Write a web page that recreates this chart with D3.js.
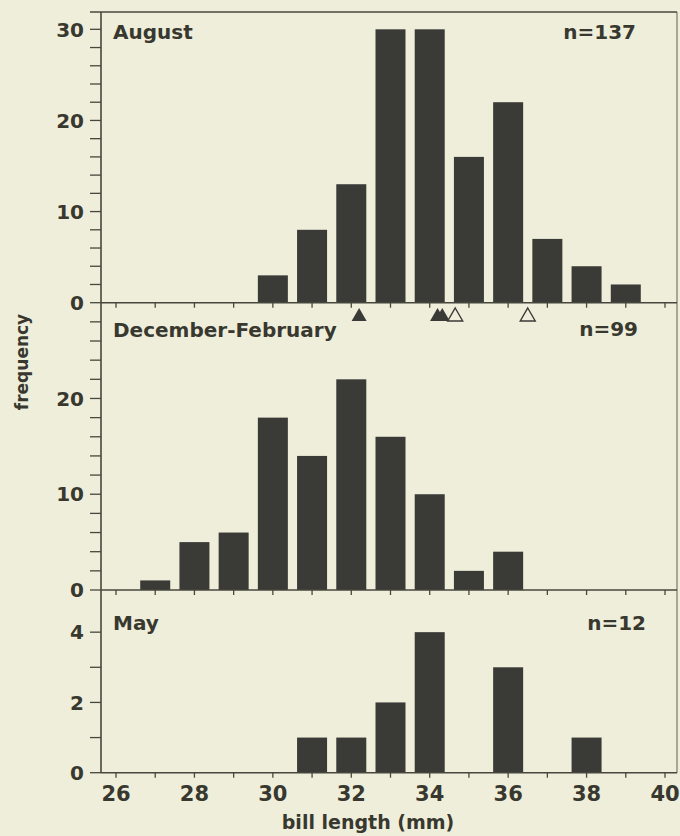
<!DOCTYPE html>
<html>
<head>
<meta charset="utf-8">
<script src="https://cdn.jsdelivr.net/npm/d3@7/dist/d3.min.js"></script>
<style>
  html, body { margin: 0; padding: 0; background: #eeeedb; }
  svg { display: block; }
  text { font-family: "DejaVu Sans", sans-serif; font-weight: bold; fill: #38382f; }
</style>
</head>
<body>
<svg id="chart" width="680" height="836"></svg>
<script>
// Bill length classes (mm) and counts per season
const augLengths = [30, 31, 32, 33, 34, 35, 36, 37, 38, 39];
const augCounts  = [3, 8, 13, 30, 30, 16, 22, 7, 4, 2];

const winLengths = [27, 28, 29, 30, 31, 32, 33, 34, 35, 36];
const winCounts  = [1, 5, 6, 18, 14, 22, 16, 10, 2, 4];

const mayLengths = [31, 32, 33, 34, 36, 38];
const mayCounts  = [1, 1, 2, 4, 3, 1];

const panelTitles = ["August", "December-February", "May"];
const panelN      = ["n=137", "n=99", "n=12"];

// Mean bill lengths marked under the August panel
const meanFilled = [32.2, 34.2, 34.32];
const meanOpen   = [34.65, 36.5];

const xTickValues = [26, 27, 28, 29, 30, 31, 32, 33, 34, 35, 36, 37, 38, 39, 40];
const xTickLabels = [26, 28, 30, 32, 34, 36, 38, 40];

const axisInk = "#47473e";
const barFill = "#3a3a37";
const paper = "#eeeedb";

const svg = d3.select("#chart");
const axisX = 101, rightX = 677, frameTop = 12;

const x = d3.scaleLinear().domain([26, 40]).range([116, 665]);
const barW = 30;

const panels = [
  { lengths: augLengths, counts: augCounts, y: d3.scaleLinear().domain([0, 31.9]).range([302.7, frameTop]),
    minor: d3.range(0, 31, 2), major: [0, 10, 20, 30], titleY: 39, nX: 636, nY: 39 },
  { lengths: winLengths, counts: winCounts, y: d3.scaleLinear().domain([0, 30]).range([590, 302.7]),
    minor: d3.range(0, 29, 2), major: [0, 10, 20], titleY: 337, nX: 638, nY: 336 },
  { lengths: mayLengths, counts: mayCounts, y: d3.scaleLinear().domain([0, 5.2]).range([772.7, 590]),
    minor: [0, 1, 2, 3, 4], major: [0, 2, 4], titleY: 630, nX: 646, nY: 630 }
];

// Outer frame: top and right edges
svg.append("line").attr("x1", 90).attr("x2", rightX).attr("y1", frameTop).attr("y2", frameTop)
  .attr("stroke", axisInk).attr("stroke-width", 1.5);
svg.append("line").attr("x1", rightX).attr("x2", rightX).attr("y1", frameTop).attr("y2", 773)
  .attr("stroke", axisInk).attr("stroke-width", 1.2).attr("opacity", 0.7);

panels.forEach((p, i) => {
  const g = svg.append("g");
  const y0 = p.y(0);

  // bars
  g.selectAll("rect").data(p.lengths.map((L, k) => ({ L, c: p.counts[k] })))
    .enter().append("rect")
    .attr("x", d => x(d.L) - barW / 2)
    .attr("width", barW)
    .attr("y", d => p.y(d.c))
    .attr("height", d => y0 - p.y(d.c))
    .attr("fill", barFill);

  // baseline with downward ticks
  g.append("line").attr("x1", axisX).attr("x2", rightX).attr("y1", y0).attr("y2", y0)
    .attr("stroke", axisInk).attr("stroke-width", 1.6);
  g.selectAll(".xt").data(xTickValues).enter().append("line")
    .attr("x1", d => x(d)).attr("x2", d => x(d))
    .attr("y1", y0).attr("y2", y0 + 5)
    .attr("stroke", axisInk).attr("stroke-width", 1.3);

  // left-axis ticks
  g.selectAll(".yt").data(p.minor).enter().append("line")
    .attr("x1", 90).attr("x2", axisX)
    .attr("y1", d => p.y(d)).attr("y2", d => p.y(d))
    .attr("stroke", axisInk).attr("stroke-width", 1.3);
  g.selectAll(".yl").data(p.major).enter().append("text")
    .attr("x", 84).attr("y", d => p.y(d)).attr("dy", "0.36em")
    .attr("text-anchor", "end").attr("font-size", 20)
    .text(d => d);

  // panel title and sample size
  g.append("text").attr("x", 113).attr("y", p.titleY).attr("font-size", 20).text(panelTitles[i]);
  g.append("text").attr("x", p.nX).attr("y", p.nY).attr("font-size", 20)
    .attr("text-anchor", "end").text(panelN[i]);
});

// left axis line
svg.append("line").attr("x1", axisX).attr("x2", axisX).attr("y1", frameTop).attr("y2", 773)
  .attr("stroke", axisInk).attr("stroke-width", 1.6);

// mean markers under the August panel
const triTop = 308, triBot = 321, triHalf = 7.5;
const triPath = cx => `M${cx},${triTop}L${cx + triHalf},${triBot}L${cx - triHalf},${triBot}Z`;
svg.selectAll(".mf").data(meanFilled).enter().append("path")
  .attr("d", d => triPath(x(d))).attr("fill", "#3a3a36");
svg.selectAll(".mo").data(meanOpen).enter().append("path")
  .attr("d", d => triPath(x(d))).attr("fill", paper)
  .attr("stroke", "#3a3a36").attr("stroke-width", 1.4);

// x tick labels
svg.selectAll(".xl").data(xTickLabels).enter().append("text")
  .attr("x", d => x(d)).attr("y", 801)
  .attr("text-anchor", "middle").attr("font-size", 21)
  .text(d => d);

// axis titles
svg.append("text").attr("x", 368).attr("y", 829).attr("text-anchor", "middle")
  .attr("font-size", 19).text("bill length (mm)");
svg.append("text").attr("transform", "translate(28,362) rotate(-90)")
  .attr("text-anchor", "middle").attr("font-size", 17).text("frequency");
</script>
</body>
</html>
